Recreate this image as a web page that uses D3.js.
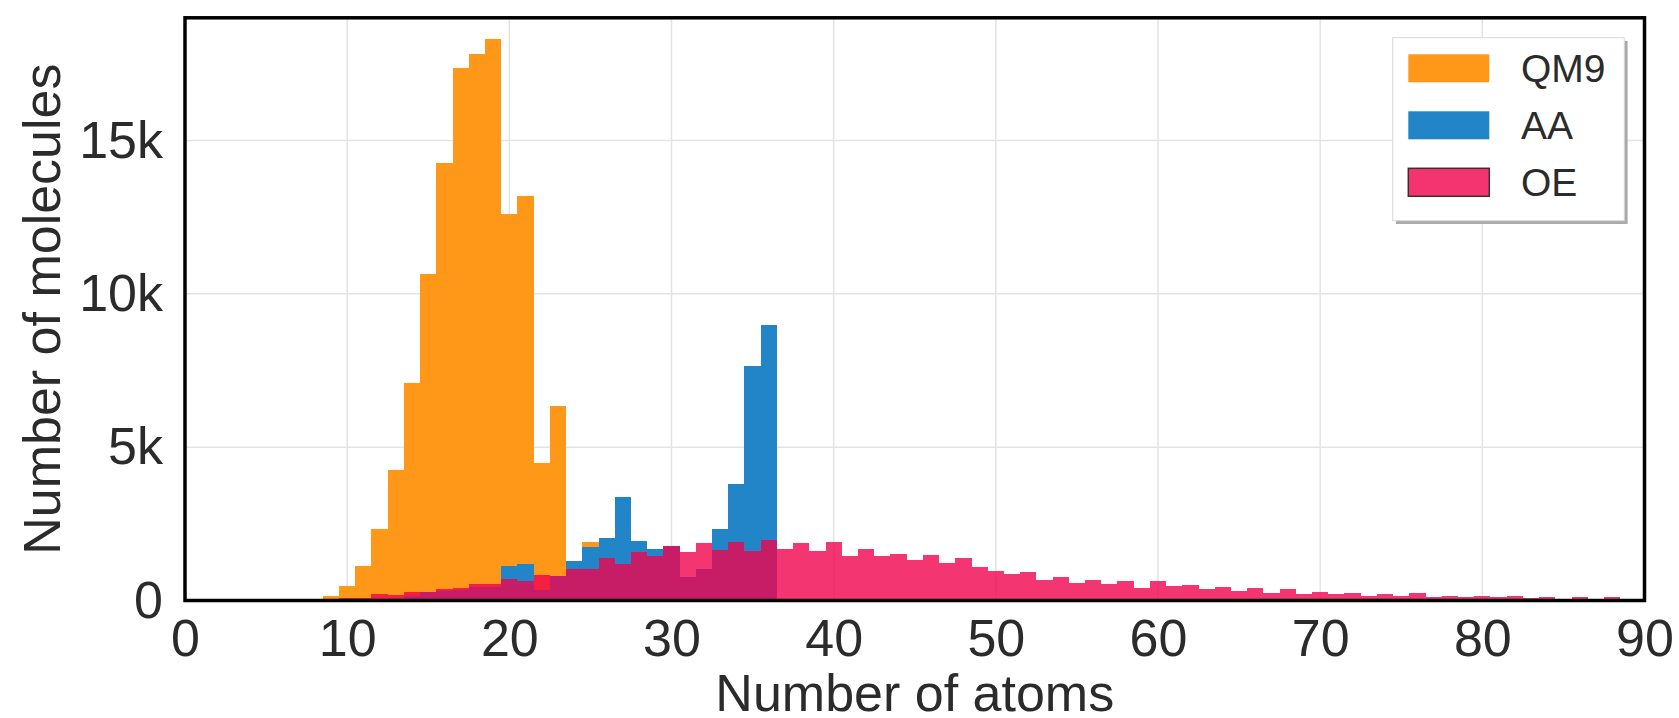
<!DOCTYPE html>
<html>
<head>
<meta charset="utf-8">
<script src="https://cdn.jsdelivr.net/npm/d3@7"></script>
<style>
  body { margin: 0; background: #fff; }
  text { font-family: "Liberation Sans", Arial, sans-serif; fill: #2b2b2b; }
</style>
</head>
<body>
<div id="chart"></div>
<script>
// histogram counts per bin (bin = number of atoms, width 1)
var qm9Start = 9;
var qm9Counts = [160, 460, 1140, 2320, 4260, 7100, 10640, 14260, 17360, 17820, 18300,
    12610, 13180, 4480, 6340, 1000, 1910, 400, 100, 30];

var aaStart = 12;
var aaCounts = [50, 80, 140, 280, 300, 330, 450, 450, 1140, 1200, 330, 790, 1300, 1750,
    2040, 3390, 1950, 1680, 1770, 760, 1040, 2340, 3800, 7650, 8990];

var oeStart = 9;
var oeCounts = [30, 80, 80, 220, 170, 290, 280, 390, 400, 540, 540, 690, 620, 820, 790,
    1030, 1030, 1370, 1200, 1580, 1460, 1770, 1570, 1880, 1640, 1910, 1630, 1980, 1670,
    1880, 1630, 1910, 1440, 1670, 1460, 1530, 1330, 1470, 1210, 1390, 1080, 950, 850,
    920, 680, 780, 580, 680, 540, 620, 410, 620, 460, 520, 360, 450, 320, 410, 250, 370,
    200, 290, 200, 260, 160, 200, 140, 230, 100, 160, 100, 160, 110, 160, 80, 130, 50,
    120, 50, 110, 50, 50];

var xTicks = [0, 10, 20, 30, 40, 50, 60, 70, 80, 90];
var yTicks = [0, 5000, 10000, 15000];

var seriesNames = ["QM9", "AA", "OE"];

var width = 1679,
    height = 718;

// plot box (pixels)
var plotLeft = 185, plotRight = 1644.5, plotTop = 17.8, plotBottom = 600.5;

var x = d3.scaleLinear().domain([0, 90]).range([plotLeft, plotRight]);
var y = d3.scaleLinear().domain([0, 19000]).range([plotBottom, plotTop]);

var svg = d3.select("#chart").append("svg")
    .attr("width", width)
    .attr("height", height);

svg.append("defs").append("clipPath")
    .attr("id", "plot-clip")
    .append("rect")
    .attr("x", plotLeft).attr("y", plotTop)
    .attr("width", plotRight - plotLeft).attr("height", plotBottom - plotTop);

//grid
var grid = svg.append("g").attr("class", "grid");
grid.selectAll("line.vx")
    .data(xTicks.slice(1, -1))
    .enter().append("line")
    .attr("x1", x).attr("x2", x)
    .attr("y1", plotTop).attr("y2", plotBottom)
    .attr("stroke", "#e3e3e3")
    .attr("stroke-width", 1.5);
grid.selectAll("line.hy")
    .data(yTicks.slice(1))
    .enter().append("line")
    .attr("x1", plotLeft).attr("x2", plotRight)
    .attr("y1", y).attr("y2", y)
    .attr("stroke", "#e3e3e3")
    .attr("stroke-width", 1.5);

function toBins(start, counts) {
    return counts.map(function(c, i) {
        return { atoms: start + i, count: c };
    });
}

var bars = svg.append("g")
    .attr("clip-path", "url(#plot-clip)")
    .attr("shape-rendering", "crispEdges");

function drawHist(data, fill, opacity) {
    bars.append("g")
        .selectAll("rect")
        .data(data)
        .enter().append("rect")
        .attr("x", function(d) { return x(d.atoms - 0.5); })
        .attr("width", function(d) { return x(d.atoms + 0.5) - x(d.atoms - 0.5); })
        .attr("y", function(d) { return y(d.count); })
        .attr("height", function(d) { return y(0) - y(d.count); })
        .attr("fill", fill)
        .attr("fill-opacity", opacity);
}

drawHist(toBins(qm9Start, qm9Counts), "#ff9718", 1);
drawHist(toBins(aaStart, aaCounts), "#2285c7", 1);
drawHist(toBins(oeStart, oeCounts), "#f0024e", 0.8);

// frame
svg.append("rect")
    .attr("x", plotLeft).attr("y", plotTop)
    .attr("width", plotRight - plotLeft).attr("height", plotBottom - plotTop)
    .attr("fill", "none")
    .attr("stroke", "#000")
    .attr("stroke-width", 3.5);

// axes
var xAxis = svg.append("g")
    .attr("transform", "translate(0," + plotBottom + ")")
    .call(d3.axisBottom(x).tickValues(xTicks).tickSize(0).tickPadding(19));
var yAxis = svg.append("g")
    .attr("transform", "translate(" + plotLeft + ",0)")
    .call(d3.axisLeft(y).tickValues(yTicks).tickSize(0).tickPadding(22)
        .tickFormat(function(d) { return d === 0 ? "0" : (d / 1000) + "k"; }));

[xAxis, yAxis].forEach(function(a) {
    a.select(".domain").remove();
    a.selectAll("text")
        .style("font-family", '"Liberation Sans", Arial, sans-serif')
        .style("font-size", "52px")
        .attr("fill", "#2b2b2b");
});

svg.append("text")
    .attr("x", (plotLeft + plotRight) / 2)
    .attr("y", 711)
    .attr("text-anchor", "middle")
    .style("font-size", "52px")
    .text("Number of atoms");

svg.append("text")
    .attr("transform", "translate(60," + ((plotTop + plotBottom) / 2) + ") rotate(-90)")
    .attr("text-anchor", "middle")
    .style("font-size", "52px")
    .text("Number of molecules");

// legend
var legend = svg.append("g");
legend.append("rect")
    .attr("x", 1396).attr("y", 41)
    .attr("width", 231.6).attr("height", 183)
    .attr("fill", "#aaa");
legend.append("rect")
    .attr("x", 1392.7).attr("y", 37.7)
    .attr("width", 231.6).attr("height", 183)
    .attr("fill", "#fff")
    .attr("stroke", "#d8d8d8")
    .attr("stroke-width", 1);

var legendColors = ["#ff9718", "#2285c7", "#f33471"];
var legendStroke = ["none", "none", "#333"];
seriesNames.forEach(function(name, i) {
    var py = 54.3 + i * 57;
    legend.append("rect")
        .attr("x", 1408.3).attr("y", py)
        .attr("width", 81).attr("height", 28)
        .attr("fill", legendColors[i])
        .attr("stroke", legendStroke[i])
        .attr("stroke-width", 1.5);
    legend.append("text")
        .attr("x", 1521)
        .attr("y", py + 28)
        .style("font-size", "39px")
        .text(name);
});
</script>
</body>
</html>
